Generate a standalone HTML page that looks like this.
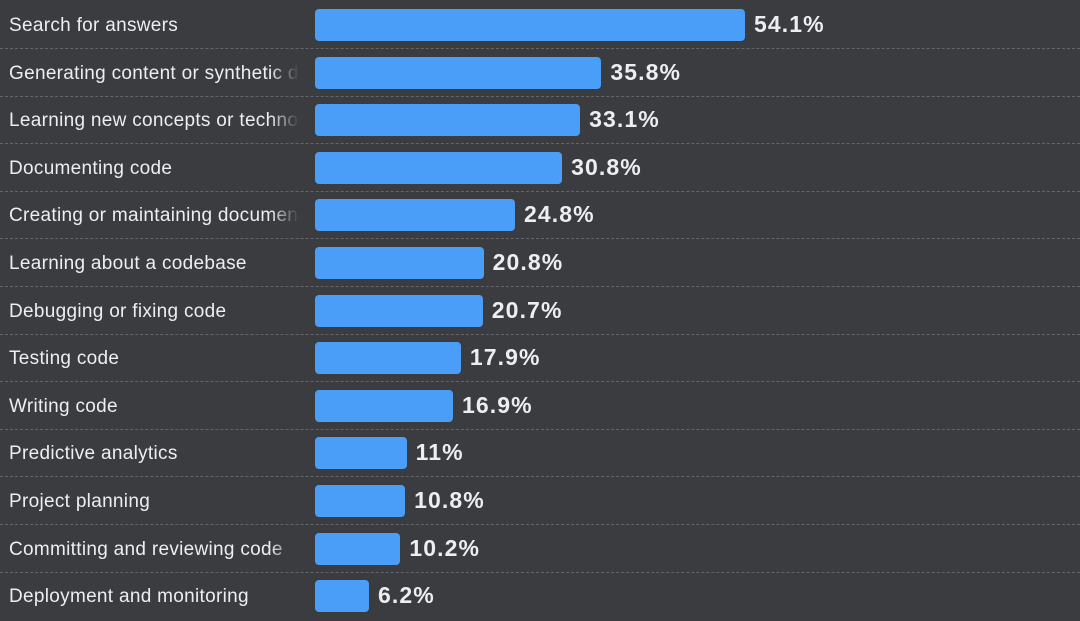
<!DOCTYPE html>
<html><head><style>
body{margin:0;width:1080px;height:617px;background:#3a3c40;overflow:hidden;font-family:"Liberation Sans",sans-serif;position:relative}
.row{position:absolute;left:0;width:1080px;height:47.6px}
.lab{position:absolute;left:9px;top:1px;line-height:47.6px;font-size:19px;letter-spacing:0.3px;color:#eceef0;width:290px;white-space:nowrap;overflow:hidden;-webkit-mask-image:linear-gradient(to right,#000 90%,transparent 100%)}
.bar{position:absolute;left:315px;top:8px;height:32px;background:#4b9ef8;border-radius:4px}
.val{position:absolute;top:0;line-height:47.6px;font-size:23px;letter-spacing:1.1px;font-weight:bold;color:#eceef0}
.sep{position:absolute;left:0;width:1080px;border-top:1.5px dashed #62656b}
</style></head><body>
<div id="c"></div>
<script>
var d=[["Search for answers",54.1],["Generating content or synthetic data",35.8],["Learning new concepts or technologies",33.1],["Documenting code",30.8],["Creating or maintaining documentation",24.8],["Learning about a codebase",20.8],["Debugging or fixing code",20.7],["Testing code",17.9],["Writing code",16.9],["Predictive analytics",11],["Project planning",10.8],["Committing and reviewing code",10.2],["Deployment and monitoring",6.2]];
var h="";
d.forEach(function(r,i){var y=1+47.6*i,w=5.3+r[1]*7.85;
h+='<div class="row" style="top:'+y+'px"><div class="lab">'+r[0]+'</div><div class="bar" style="width:'+w+'px"></div><div class="val" style="left:'+(315+w+9)+'px">'+r[1]+'%</div></div>';
if(i<12)h+='<div class="sep" style="top:'+(48+47.6*i)+'px"></div>';});
document.getElementById("c").innerHTML=h;
</script>
</body></html>
